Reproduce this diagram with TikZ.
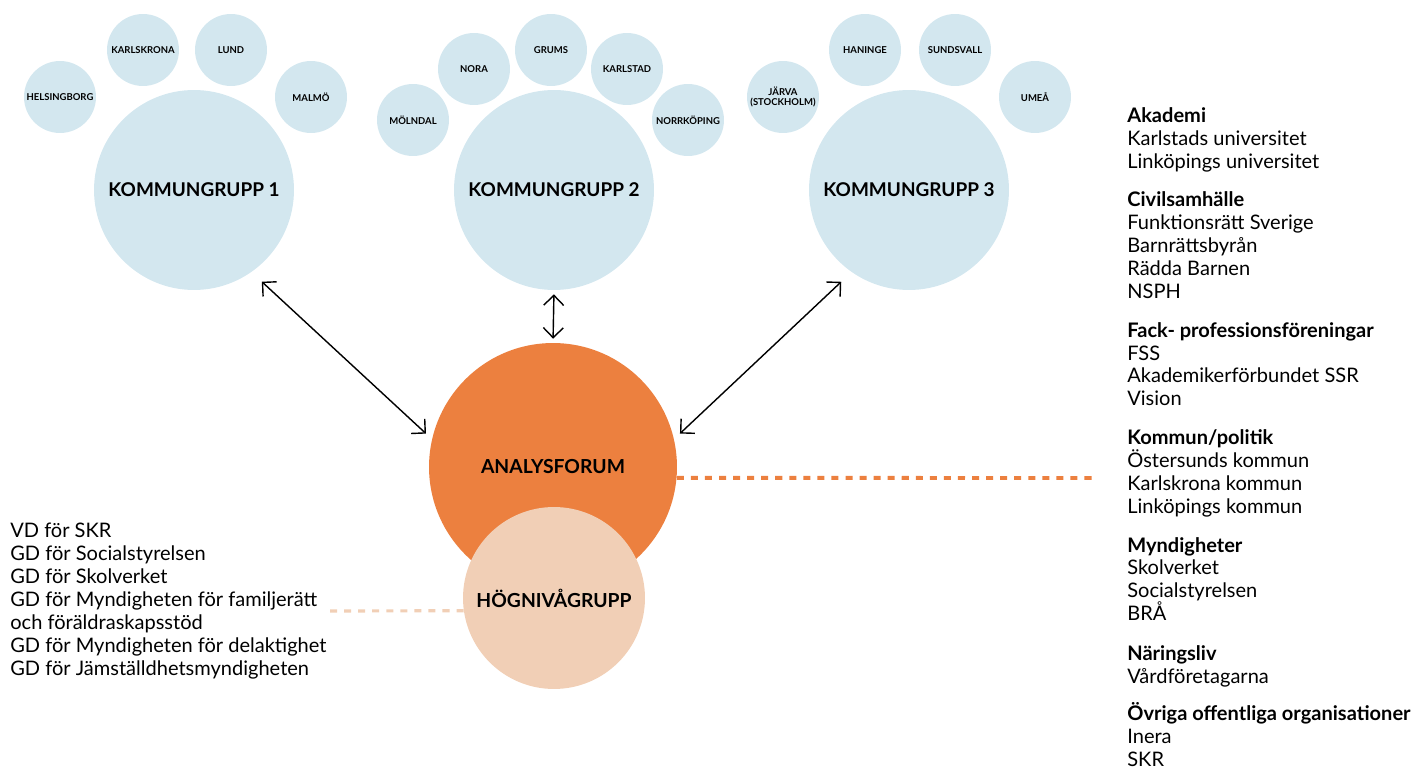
\documentclass[tikz,border=0pt]{standalone}
\usepackage{fontspec}
\setmainfont{Lato}
\usepackage{xcolor}
\usetikzlibrary{arrows.meta,positioning}

\definecolor{townblue}{HTML}{D3E7EF}
\definecolor{forumorange}{HTML}{EC803F}
\definecolor{hogpeach}{HTML}{F1CFB6}

\begin{document}
\begin{tikzpicture}[
    x=0.02cm, y=-0.02cm,
    town/.style={circle, fill=townblue, minimum size=1.44cm, inner sep=0pt, align=center, font=\fontsize{5.4}{6.2}\selectfont\bfseries},
    group/.style={circle, fill=townblue, minimum size=4cm, inner sep=0pt, font=\fontsize{10.8}{13}\selectfont\bfseries},
    forum/.style={circle, fill=forumorange, minimum size=4.96cm, inner sep=0pt, font=\fontsize{11}{13}\selectfont\bfseries},
    hog/.style={circle, fill=hogpeach, minimum size=3.64cm, inner sep=0pt, font=\fontsize{11}{13}\selectfont\bfseries},
    list/.style={inner sep=0pt, align=left, anchor=north west, font=\fontsize{11.4}{13.04}\selectfont},
    arrow/.style={{Straight Barb[length=2mm,width=4mm]}-{Straight Barb[length=2mm,width=4mm]}, line width=0.8pt},
    link/.style={dash pattern=on 4pt off 4pt, line width=2.2pt}
]
\useasboundingbox (0,0) rectangle (1417,770);

% Kommungrupper
\node[group] (grp1) at (194,190) {KOMMUNGRUPP 1};
\node[group] (grp2) at (554,190) {KOMMUNGRUPP 2};
\node[group] (grp3) at (909,190) {KOMMUNGRUPP 3};

% Kommuner
\node[town] (helsingborg) at (60,97) {HELSINGBORG};
\node[town] (karlskrona) at (143,50) {KARLSKRONA};
\node[town] (lund) at (231,50) {LUND};
\node[town] (malmo) at (311,97) {MALMÖ};
\node[town] (molndal) at (413,120) {MÖLNDAL};
\node[town] (nora) at (474,69) {NORA};
\node[town] (grums) at (551,50) {GRUMS};
\node[town] (karlstad) at (627,69) {KARLSTAD};
\node[town] (norrkoping) at (688,120) {NORRKÖPING};
\node[town] (jarva) at (783,97) {JÄRVA\\(STOCKHOLM)};
\node[town] (haninge) at (865,50) {HANINGE};
\node[town] (sundsvall) at (955,50) {SUNDSVALL};
\node[town] (umea) at (1035,97) {UMEÅ};

% Analysforum och Högnivågrupp
\node[forum] (forum) at (553,467) {ANALYSFORUM};
\node[hog] (hog) at (554,598) {HÖGNIVÅGRUPP};

% Arrows
\draw[arrow, shorten <=0.28cm, shorten >=0.16cm] (grp1.-55) -- (forum.167);
\draw[arrow, shorten <=0.08cm, shorten >=0.08cm] (grp2.south) -- (forum.north);
\draw[arrow, shorten <=0.28cm, shorten >=0.16cm] (grp3.-125) -- (forum.13);

% Deltagare
\node[list] (gd) at (10,523) {VD för SKR\\
GD för Socialstyrelsen\\
GD för Skolverket\\
GD för Myndigheten för familjerätt\\
och föräldraskapsstöd\\
GD för Myndigheten för delaktighet\\
GD för Jämställdhetsmyndigheten};

\node[list] (orgs) at (1127,107) {\textbf{Akademi}\\
Karlstads universitet\\
Linköpings universitet\\[9pt]
\textbf{Civilsamhälle}\\
Funktionsrätt Sverige\\
Barnrättsbyrån\\
Rädda Barnen\\
NSPH\\[9pt]
\textbf{Fack- professionsföreningar}\\
FSS\\
Akademikerförbundet SSR\\
Vision\\[9pt]
\textbf{Kommun/politik}\\
Östersunds kommun\\
Karlskrona kommun\\
Linköpings kommun\\[9pt]
\textbf{Myndigheter}\\
Skolverket\\
Socialstyrelsen\\
BRÅ\\[9.5pt]
\textbf{Näringsliv}\\
Vårdföretagarna\\[8pt]
\textbf{Övriga offentliga organisationer}\\
Inera\\
SKR};

% Dashed links
\coordinate (orgsend) at (1095,478);
\coordinate (gdend) at (330,611);
\draw[link, forumorange] (forum.-5) -- (orgsend);
\draw[link, hogpeach, line width=1.8pt] (hog.188) -- (gdend);

\end{tikzpicture}
\end{document}
